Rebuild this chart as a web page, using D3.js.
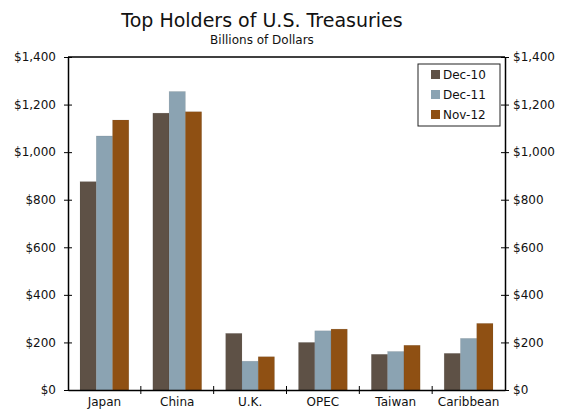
<!DOCTYPE html>
<html>
<head>
<meta charset="utf-8">
<script src="https://cdn.jsdelivr.net/npm/d3@7"></script>
<style>
body { margin: 0; background: #fff; }
text { font-family: "DejaVu Sans", Verdana, sans-serif; fill: #111; }
</style>
</head>
<body>
<script>
const width = 565, height = 416
const margin = {top: 57, right: 60, bottom: 26, left: 68}

const categories = ["Japan", "China", "U.K.", "OPEC", "Taiwan", "Caribbean"]
const seriesNames = ["Dec-10", "Dec-11", "Nov-12"]
const dec10 = [876, 1164, 238, 200, 150, 154]
const dec11 = [1068, 1255, 121, 249, 162, 217]
const nov12 = [1135, 1170, 140, 256, 188, 280]
const colors = ["#5e5146", "#8ba3b2", "#8f5013"]
const yTicks = [0, 200, 400, 600, 800, 1000, 1200, 1400]

const series = [dec10, dec11, nov12]

const svg = d3.select("body").append("svg")
    .attr("width", width)
    .attr("height", height)

const iw = width - margin.left - margin.right
const ih = height - margin.top - margin.bottom
const g = svg.append("g").attr("transform", `translate(${margin.left},${margin.top})`)

const x = d3.scaleBand().domain(categories).range([0, iw]).paddingInner(0.33).paddingOuter(0.165)
const xBand = d3.scaleBand().domain(categories).range([0, iw])
const x1 = d3.scaleBand().domain(seriesNames).range([0, x.bandwidth()])
const y = d3.scaleLinear().domain([0, 1400]).range([ih, 0])

// Title
svg.append("text").attr("x", 262).attr("y", 27).attr("text-anchor", "middle")
    .style("font-size", "19px").text("Top Holders of U.S. Treasuries")
svg.append("text").attr("x", 262).attr("y", 44).attr("text-anchor", "middle")
    .style("font-size", "12px").text("Billions of Dollars")

// Bars
const cat = g.selectAll(".cat").data(categories).enter().append("g")
    .attr("transform", d => `translate(${x(d)},0)`)
cat.selectAll("rect").data((c, i) => series.map((s, j) => ({k: seriesNames[j], v: s[i], j})))
    .enter().append("rect")
    .attr("x", d => x1(d.k))
    .attr("width", x1.bandwidth())
    .attr("y", d => y(d.v))
    .attr("height", d => ih - y(d.v))
    .attr("fill", d => colors[d.j])
    .attr("stroke", "rgba(0,0,0,0.12)")
    .attr("stroke-width", 0.6)

// Frame
g.append("line").attr("x1", 0).attr("x2", iw).attr("y1", 0).attr("y2", 0).attr("stroke", "#000").attr("stroke-width", 1.5)

// Left axis
const yl = g.append("g").call(d3.axisLeft(y).tickValues(yTicks).tickFormat(d => "$" + d3.format(",")(d)).tickSizeInner(4).tickSizeOuter(0))
yl.selectAll(".tick line").attr("x2", 4).attr("x1", -4)
yl.selectAll("text").attr("x", -12).style("font-size", "12px")
yl.select(".domain").attr("stroke-width", 1.5)

// Right axis
const yr = g.append("g").attr("transform", `translate(${iw},0)`)
    .call(d3.axisRight(y).tickValues(yTicks).tickFormat(d => "$" + d3.format(",")(d)).tickSizeInner(4).tickSizeOuter(0))
yr.selectAll(".tick line").attr("x1", -4).attr("x2", 4)
yr.selectAll("text").attr("x", 8).style("font-size", "12px")
yr.select(".domain").attr("stroke-width", 1.5)

// Bottom axis
const xa = g.append("g").attr("transform", `translate(0,${ih})`)
    .call(d3.axisBottom(xBand).tickSize(0).tickSizeOuter(0))
xa.selectAll("text").attr("y", 7).style("font-size", "12px")
xa.select(".domain").attr("stroke-width", 1.5)
xa.selectAll(".sep").data(categories.slice(1)).enter().append("line")
    .attr("class", "sep")
    .attr("x1", d => xBand(d)).attr("x2", d => xBand(d))
    .attr("y1", -4).attr("y2", 4).attr("stroke", "#000")

// Legend
const lg = svg.append("g").attr("transform", "translate(418,64)")
lg.append("rect").attr("width", 82).attr("height", 62).attr("fill", "#fff").attr("stroke", "#222")
seriesNames.forEach((s, i) => {
    lg.append("rect").attr("x", 13).attr("y", 6 + i * 20).attr("width", 9).attr("height", 9).attr("fill", colors[i])
    lg.append("text").attr("x", 25).attr("y", 15 + i * 20).style("font-size", "12px").text(s)
})
</script>
</body>
</html>
